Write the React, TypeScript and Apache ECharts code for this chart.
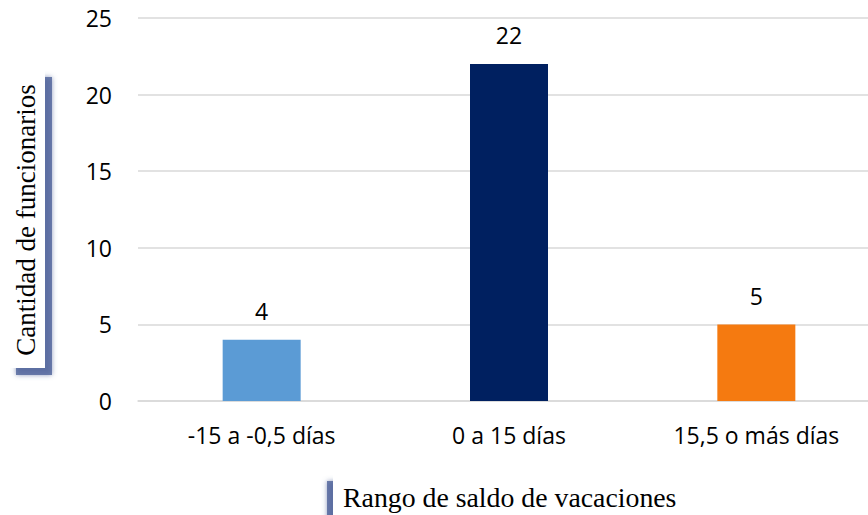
import React, { useEffect, useRef } from "react";
import * as echarts from "echarts";

const categories = ["-15 a -0,5 días", "0 a 15 días", "15,5 o más días"];
const values = [4, 22, 5];
const barColors = ["#5B9BD5", "#002060", "#F57A10"];
const yTitle = "Cantidad de funcionarios";
const xTitle = "Rango de saldo de vacaciones";

const shadowFill = "rgba(80,100,155,0.8)";

export default function App() {
  const ref = useRef<HTMLDivElement>(null);
  useEffect(() => {
    const chart = echarts.init(ref.current!, null, { renderer: "svg" });
    chart.setOption({
      animation: false,
      backgroundColor: "#ffffff",
      grid: { left: 138, top: 18, width: 742, bottom: 114, containLabel: false },
      xAxis: {
        type: "category",
        data: categories,
        axisLine: { show: true, lineStyle: { color: "#D9D9D9", width: 1.5 } },
        axisTick: { show: false },
        axisLabel: { color: "#000", fontSize: 23, fontFamily: "Open Sans", margin: 22 },
      },
      yAxis: {
        type: "value",
        min: 0,
        max: 25,
        interval: 5,
        axisLine: { show: false },
        axisTick: { show: false },
        splitLine: { lineStyle: { color: "#D9D9D9", width: 1.5 } },
        axisLabel: { color: "#000", fontSize: 23, fontFamily: "Open Sans", margin: 26 },
      },
      series: [
        {
          type: "bar",
          barWidth: 78,
          data: values.map((v, i) => ({ value: v, itemStyle: { color: barColors[i] } })),
          label: {
            show: true,
            position: "top",
            distance: 17,
            color: "#000",
            fontSize: 23,
            fontFamily: "Open Sans",
          },
        },
      ],
      graphic: [
        {
          type: "rect",
          shape: { x: 16, y: 77, width: 36, height: 298 },
          style: { fill: shadowFill, shadowBlur: 5, shadowColor: shadowFill },
        },
        {
          type: "rect",
          shape: { x: 10, y: 70, width: 35, height: 298 },
          style: { fill: "#fff" },
        },
        {
          type: "text",
          x: 26,
          y: 220,
          rotation: Math.PI / 2,
          style: {
            text: yTitle,
            fontSize: 27,
            fontFamily: "Liberation Serif",
            fill: "#000",
            align: "center",
            verticalAlign: "middle",
          },
        },
        {
          type: "rect",
          shape: { x: 327, y: 481, width: 350, height: 50 },
          style: { fill: shadowFill, shadowBlur: 5, shadowColor: shadowFill },
        },
        {
          type: "rect",
          shape: { x: 333, y: 475, width: 350, height: 50 },
          style: { fill: "#fff" },
        },
        {
          type: "text",
          x: 343,
          y: 497,
          style: {
            text: xTitle,
            fontSize: 27.8,
            fontFamily: "Liberation Serif",
            fill: "#000",
            align: "left",
            verticalAlign: "middle",
          },
        },
      ],
    });
    return () => chart.dispose();
  }, []);
  return (
    <div style={{ position: "fixed", left: 0, top: 0, width: 868, height: 515, overflow: "hidden" }}>
      <div ref={ref} style={{ width: 900, height: 515 }} />
    </div>
  );
}
